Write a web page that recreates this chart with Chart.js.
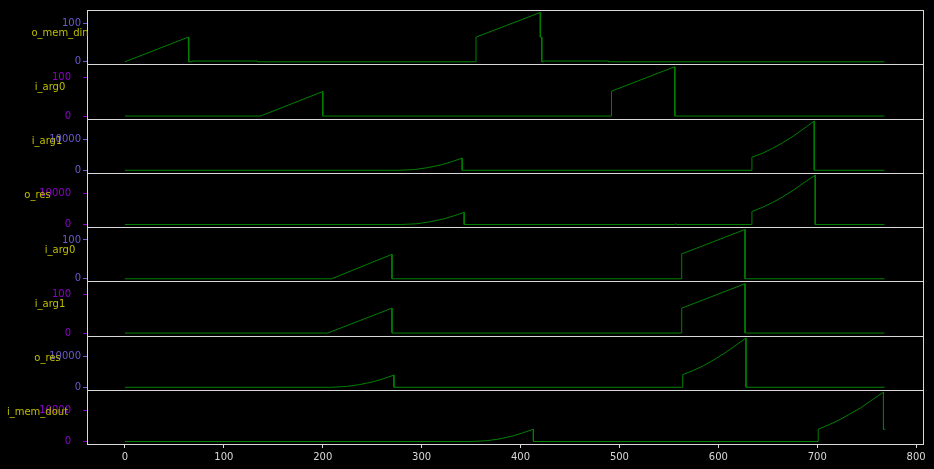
<!DOCTYPE html>
<html>
<head>
<meta charset="utf-8">
<script src="https://cdn.jsdelivr.net/npm/chart.js@4.4.0/dist/chart.umd.min.js"></script>
<style>
  html, body { margin: 0; padding: 0; background: #000; }
</style>
</head>
<body>
<canvas id="waves" width="934" height="469"></canvas>
<script>
// signal names, top to bottom
const panelNames = ['o_mem_din', 'i_arg0', 'i_arg1', 'o_res', 'i_arg0', 'i_arg1', 'o_res', 'i_mem_dout'];
// upper y tick on each panel (the lower one is 0)
const yTickTop = [100, 100, 10000, 10000, 100, 100, 10000, 10000];
const xTicks = [0, 100, 200, 300, 400, 500, 600, 700, 800];

// values
const oMemDinX = [0, 64, 64.5, 68, 68, 134, 134, 355, 355, 420, 420, 421.5, 421.5, 423, 423, 489, 489, 768];
const oMemDinY = [0, 64, 0, 0, 2, 2, 0, 0, 64, 128, 64, 64, 0, 0, 2, 2, 0, 0];

const iArg0aX = [0, 137, 200, 200, 492, 492, 556, 556, 768];
const iArg0aY = [0, 0, 63, 0, 0, 64, 127, 0, 0];

const iArg1aX = [0, 277, 293, 306, 320, 330, 341, 341, 634, 634, 645, 655, 665, 676, 689, 697, 697, 768];
const iArg1aY = [0, 0, 250, 850, 1800, 2750, 4000, 0, 0, 4300, 5600, 7200, 9000, 11200, 14200, 16129, 0, 0];

const oResAX = [0, 279, 295, 308, 322, 332, 343, 343, 556, 557, 558, 634, 634, 645, 655, 665, 676, 689, 698, 698, 768];
const oResAY = [0, 0, 250, 850, 1800, 2750, 3950, 0, 0, 250, 0, 0, 4200, 5600, 7100, 8900, 11100, 14000, 15900, 0, 0];

const iArg0bX = [0, 209, 270, 270, 563, 563, 627, 627, 768];
const iArg0bY = [0, 0, 63, 0, 0, 64, 127, 0, 0];

const iArg1bX = [0, 205, 270, 270, 563, 563, 627, 627, 768];
const iArg1bY = [0, 0, 64, 0, 0, 64, 127, 0, 0];

const oResBX = [0, 208, 224, 237, 251, 261, 272, 272, 564, 564, 575, 585, 595, 606, 618, 628, 628, 768];
const oResBY = [0, 0, 250, 850, 1800, 2750, 3950, 0, 0, 4100, 5500, 7000, 8800, 11000, 13700, 16000, 0, 0];

const iMemDoutX = [0, 349, 365, 378, 392, 402, 413, 413, 701, 701, 712, 722, 733, 744, 756, 767, 767, 769];
const iMemDoutY = [0, 0, 250, 800, 1800, 2800, 4000, 0, 0, 4000, 5500, 7000, 9000, 11000, 13700, 16100, 4000, 4000];

const series = [
  [oMemDinX, oMemDinY],
  [iArg0aX, iArg0aY],
  [iArg1aX, iArg1aY],
  [oResAX, oResAY],
  [iArg0bX, iArg0bY],
  [iArg1bX, iArg1bY],
  [oResBX, oResBY],
  [iMemDoutX, iMemDoutY]
];

const font = { family: 'DejaVu Sans', size: 10 };
const blue = '#6a5acd';
const purple = '#8c00cc';
const spine = '#d9d9d9';
const labelCx = [60, 50, 47, 37.5, 60, 50, 47.5, 37.5];

const datasets = series.map(([xs, ys], i) => ({
  label: panelNames[i],
  data: xs.map((x, k) => ({ x: x, y: ys[k] })),
  xAxisID: 'x',
  yAxisID: 'y' + i,
  borderColor: '#008000',
  borderWidth: 1,
  pointRadius: 0,
  tension: 0,
  fill: false
}));

const scales = {
  x: {
    type: 'linear',
    position: 'bottom',
    min: -38.4,
    max: 808,
    afterBuildTicks: s => { s.ticks = xTicks.map(v => ({ value: v })); },
    afterFit: s => { s.height = 25; s.paddingLeft = 0; s.paddingRight = 0; },
    grid: { drawOnChartArea: false, color: spine, tickLength: 4 },
    border: { display: false },
    ticks: { color: spine, font: font, padding: 3, maxRotation: 0, callback: v => String(v) }
  }
};

panelNames.forEach((name, i) => {
  const top = Math.max(...series[i][1]);
  const col = i % 2 === 0 ? blue : purple;
  scales['y' + i] = {
    type: 'linear',
    position: 'left',
    stack: 'panels',
    stackWeight: 1,
    weight: panelNames.length - i,
    min: -0.05 * top,
    max: 1.05 * top,
    afterBuildTicks: s => { s.ticks = [0, yTickTop[i]].map(v => ({ value: v })); },
    afterFit: s => { s.width = 87; s.paddingTop = 0; s.paddingBottom = 0; },
    grid: { drawOnChartArea: false, color: col, tickLength: 4 },
    border: { display: false },
    ticks: { color: col, font: font, padding: i % 2 === 0 ? 2 : 12, callback: v => String(v) }
  };
});

// frame around every panel plus the horizontal signal names
const panelFrame = {
  id: 'panelFrame',
  afterDraw(chart) {
    const ctx = chart.ctx;
    const { left, right } = chart.chartArea;
    ctx.save();
    ctx.strokeStyle = spine;
    ctx.lineWidth = 1;
    panelNames.forEach((name, i) => {
      const s = chart.scales['y' + i];
      const t = Math.round(s.top) + 0.5;
      const b = Math.round(s.bottom) + 0.5;
      ctx.strokeRect(Math.round(left) + 0.5, t, Math.round(right - left) - 1, b - t);
    });
    ctx.fillStyle = '#bfbf00';
    ctx.font = '10px "DejaVu Sans"';
    ctx.textAlign = 'center';
    ctx.textBaseline = 'middle';
    panelNames.forEach((name, i) => {
      const s = chart.scales['y' + i];
      ctx.fillText(name, labelCx[i], (s.top + s.bottom) / 2 - 4);
    });
    ctx.restore();
  }
};

new Chart(document.getElementById('waves').getContext('2d'), {
  type: 'line',
  data: { datasets: datasets },
  options: {
    responsive: false,
    animation: false,
    layout: { padding: { top: 10, right: 10, left: 0, bottom: 0 } },
    plugins: { legend: { display: false }, tooltip: { enabled: false } },
    scales: scales
  },
  plugins: [panelFrame]
});
</script>
</body>
</html>
